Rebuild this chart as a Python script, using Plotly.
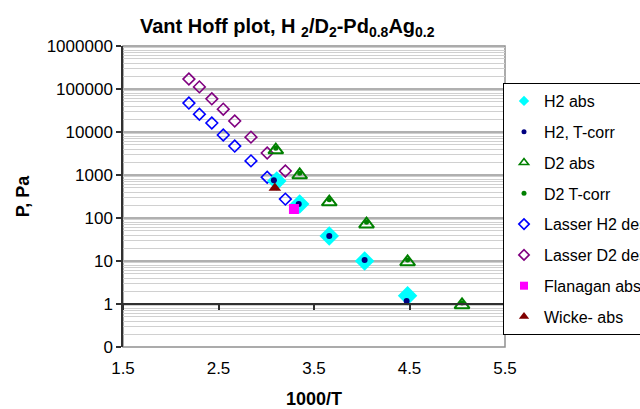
import plotly.graph_objects as go

# ---- data ----
h2_abs_x = [3.11, 3.35, 3.66, 4.03, 4.48]
h2_abs_y = [725, 213, 38, 10, 1.55]
h2_tc_x = [3.08, 3.34, 3.66, 4.03, 4.47]
h2_tc_y = [760, 213, 38, 10.5, 1.17]
d2_abs_x = [3.10, 3.35, 3.66, 4.05, 4.48, 5.05]
d2_abs_y = [3800, 1000, 235, 72, 9.5, 0.95]
d2_tc_x = [3.10, 3.35, 3.66, 4.05, 4.48, 5.05]
d2_tc_y = [4200, 1100, 265, 80, 10.5, 1.05]
lasser_h2_x = [2.19, 2.30, 2.43, 2.55, 2.67, 2.84, 3.01, 3.20]
lasser_h2_y = [47000, 26000, 16200, 8500, 4700, 2130, 890, 275]
lasser_d2_x = [2.19, 2.30, 2.43, 2.55, 2.67, 2.84, 3.01, 3.20]
lasser_d2_y = [170000, 112000, 59000, 34000, 18000, 7600, 3250, 1240]
flanagan_x = [3.29]
flanagan_y = [162]
wicke_x = [3.09]
wicke_y = [500]

x_ticks = [1.5, 2.5, 3.5, 4.5, 5.5]
y_ticks = [0.1, 1, 10, 100, 1000, 10000, 100000, 1000000]
y_ticktext = ["0", "1", "10", "100", "1000", "10000", "100000", "1000000"]
y_minor = [k * 10.0 ** e for e in range(-1, 6) for k in range(2, 10)]

FONT = "Liberation Sans, Arial, sans-serif"

series = [
    # name, x, y, plot marker, legend marker
    ("Lasser H2 des", lasser_h2_x, lasser_h2_y,
     dict(symbol="diamond-open", size=9, color="#0000FF", line=dict(width=1.6, color="#0000FF")),
     dict(symbol="diamond-open", size=8, color="#0000FF", line=dict(width=1.6, color="#0000FF"))),
    ("Lasser D2 des", lasser_d2_x, lasser_d2_y,
     dict(symbol="diamond-open", size=9, color="#800080", line=dict(width=1.6, color="#800080")),
     dict(symbol="diamond-open", size=8, color="#800080", line=dict(width=1.6, color="#800080"))),
    ("H2 abs", h2_abs_x, h2_abs_y,
     dict(symbol="diamond", size=15, color="#00FFFF", line=dict(width=0)),
     dict(symbol="diamond", size=8, color="#00FFFF", line=dict(width=0))),
    ("H2, T-corr", h2_tc_x, h2_tc_y,
     dict(symbol="circle", size=6, color="#000080", line=dict(width=0)),
     dict(symbol="circle", size=5, color="#000080", line=dict(width=0))),
    ("D2 abs", d2_abs_x, d2_abs_y,
     dict(symbol="triangle-up-open", size=13, color="#008000", line=dict(width=2, color="#008000")),
     dict(symbol="triangle-up-open", size=8, color="#008000", line=dict(width=1.6, color="#008000"))),
    ("D2 T-corr", d2_tc_x, d2_tc_y,
     dict(symbol="circle", size=5, color="#008000", line=dict(width=0)),
     dict(symbol="circle", size=5, color="#008000", line=dict(width=0))),
    ("Flanagan abs", flanagan_x, flanagan_y,
     dict(symbol="square", size=10, color="#FF00FF", line=dict(width=0)),
     dict(symbol="square", size=8, color="#FF00FF", line=dict(width=0))),
    ("Wicke- abs", wicke_x, wicke_y,
     dict(symbol="triangle-up", size=11, color="#800000", line=dict(width=0)),
     dict(symbol="triangle-up", size=9, color="#800000", line=dict(width=0))),
]
legend_order = ["H2 abs", "H2, T-corr", "D2 abs", "D2 T-corr",
                "Lasser H2 des", "Lasser D2 des", "Flanagan abs", "Wicke- abs"]

fig = go.Figure()
for name, xs, ys, mk, _ in series:
    fig.add_trace(go.Scatter(x=xs, y=ys, mode="markers", name=name, marker=mk,
                             showlegend=False, legendgroup=name))
lookup = {s[0]: s for s in series}
for i, name in enumerate(legend_order):
    s = lookup[name]
    fig.add_trace(go.Scatter(x=[None], y=[None], mode="markers", name=name, marker=s[4],
                             showlegend=True, legendgroup=name, legendrank=i + 1))

# helper axis drawn at P = 1 (Excel axis crossing)
fig.add_trace(go.Scatter(x=[None], y=[None], xaxis="x2", yaxis="y",
                         showlegend=False, hoverinfo="skip"))

fig.update_layout(
    width=640, height=409,
    margin=dict(l=123, r=135, t=46, b=62, autoexpand=False),
    paper_bgcolor="white", plot_bgcolor="white",
    font=dict(family=FONT, size=16, color="black"),
    title=dict(text="<b>Vant Hoff plot, H <sub>2</sub>/D<sub>2</sub>-Pd<sub>0.8</sub>Ag<sub>0.2</sub></b>",
               x=0.43, xref="paper", xanchor="center",
               y=1 - 26 / 409, yref="container", yanchor="middle",
               font=dict(family=FONT, size=20, color="black")),
    xaxis=dict(range=[1.5, 5.5], tickvals=x_ticks, ticktext=[str(v) for v in x_ticks],
               showgrid=False, zeroline=False, showline=False,
               ticks="outside", ticklen=6, tickcolor="rgba(0,0,0,0)",
               tickfont=dict(family=FONT, size=17, color="black"),
               title=dict(text="<b>1000/T</b>", font=dict(family=FONT, size=18, color="black"),
                          standoff=15)),
    xaxis2=dict(range=[1.5, 5.5], overlaying="x", anchor="free", position=1 / 7,
                tickvals=x_ticks, showticklabels=False, showgrid=False, zeroline=False,
                showline=True, linecolor="#303030", linewidth=1.5,
                ticks="outside", ticklen=5, tickwidth=1.5, tickcolor="#303030"),
    yaxis=dict(type="log", range=[-1, 6], tickvals=y_ticks, ticktext=y_ticktext,
               showgrid=True, gridcolor="#b0b0b0", gridwidth=2,
               zeroline=False, showline=True, linecolor="#303030", linewidth=1.5,
               ticks="outside", ticklen=5, tickwidth=1.5, tickcolor="#303030",
               tickfont=dict(family=FONT, size=17, color="black"),
               minor=dict(tickvals=y_minor, showgrid=True, gridcolor="#d0d0d0", gridwidth=1, ticks=""),
               title=dict(text="<b>P, Pa</b>", font=dict(family=FONT, size=18, color="black"),
                          standoff=12)),
    legend=dict(x=(503 - 123) / 382, xanchor="left", y=(347 - 83) / 301, yanchor="top",
                bgcolor="white", bordercolor="black", borderwidth=1,
                font=dict(family=FONT, size=16, color="black"),
                tracegroupgap=7, itemsizing="trace"),
    shapes=[dict(type="rect", xref="paper", yref="paper", x0=0, x1=1, y0=0, y1=1,
                 line=dict(color="#909090", width=1.5), layer="below")],
)

fig.write_html("out.html")
